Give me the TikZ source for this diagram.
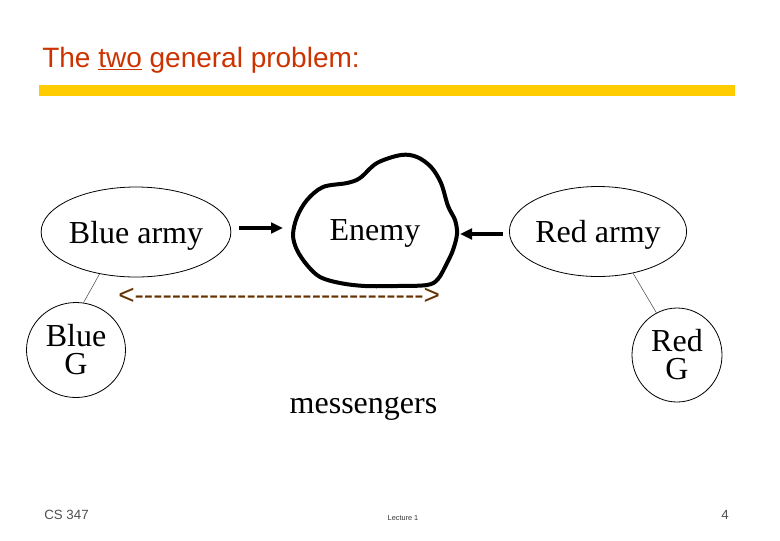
\documentclass[tikz,border=0pt]{standalone}
\usepackage{fontspec}
\setmainfont{Liberation Serif}
\newfontfamily\arialf{Liberation Sans}
\usetikzlibrary{shapes.geometric,arrows.meta}
\definecolor{titlered}{RGB}{204,51,0}
\definecolor{barYellow}{RGB}{255,204,0}
\definecolor{dashbrown}{RGB}{102,51,0}
\definecolor{footgray}{RGB}{80,80,80}
\newcommand\dashrow{\foreach \i in {1,...,31}{-\kern0pt}}
\begin{document}
\begin{tikzpicture}[x=0.75pt,y=-0.75pt,
 big/.style={font=\fontsize{24}{28}\selectfont},
 army/.style={draw, ellipse, line width=0.6pt, minimum width=127.5pt, minimum height=67.5pt, inner sep=0pt, big, text depth=0pt},
 gen/.style={draw, ellipse, line width=0.6pt, inner sep=0pt, align=center, font=\fontsize{24}{21}\selectfont},
 thickarrow/.style={line width=3pt, -{Triangle[length=9pt,width=8pt]}},
 tie/.style={line width=0.4pt, draw=black!70},
 sanstext/.style={anchor=base west, inner sep=0pt}]
\useasboundingbox (0,0) rectangle (780,540);
\fill[white] (0,0) rectangle (780,540);
% title and bar
\node[sanstext, text=titlered, font=\arialf\fontsize{21}{25}\selectfont] (title) at (42,67) {The \underline{two} general problem:};
\fill[barYellow] (39,85) rectangle (735,96);
% armies
\node[army] (blue) at (136,232) {Blue army};
\node[army] (red) at (598,231.5) {Red army};
% enemy blob
\draw[line width=3pt, line join=round] plot[smooth cycle, tension=0.55] coordinates {
 (401,155) (377,163) (360,178) (347,183) (323,187) (307,200) (297,217) (293,235)
 (297,250) (307,265) (320,277) (340,283) (365,286) (397,286) (427,285) (438,279)
 (447,263) (453,250) (457,234) (455,220) (448,206) (441,183) (431,167) (417,157)};
\node[big, inner sep=0pt, text depth=0pt] (enemy) at (375,230) {Enemy};
\coordinate (enemyL) at (283,228);
\coordinate (enemyR) at (460,234);
\draw[thickarrow, shorten <=6pt] (blue.east |- enemyL) -- (enemyL);
\draw[thickarrow, shorten <=4.5pt] (red.west |- enemyR) -- (enemyR);
% generals
\node[gen, minimum width=74.25pt, minimum height=71.25pt] (blueg) at (76,350) {Blue\\G};
\node[gen, minimum width=67.5pt, minimum height=70.5pt] (redg) at (677,355) {Red\\G};
\draw[tie] (blue.229) -- (blueg.81);
\draw[tie] (red.310) -- (redg.116);
% messengers
\node[sanstext, text=dashbrown, font=\arialf\fontsize{21}{25}\selectfont] (dash) at (118,304) {<\dashrow>};
\node[big, anchor=base, inner sep=0pt] (msg) at (363.5,413) {messengers};
% footer
\node[sanstext, text=footgray, font=\arialf\fontsize{10}{12}\selectfont] (cs) at (44,519) {CS 347};
\node[anchor=base, inner sep=0pt, text=black!80, font=\arialf\fontsize{5.5}{7}\selectfont] (lec) at (403,520) {Lecture 1};
\node[anchor=base east, inner sep=0pt, text=footgray, font=\arialf\fontsize{10}{12}\selectfont] (pg) at (729,519) {4};
\end{tikzpicture}
\end{document}
